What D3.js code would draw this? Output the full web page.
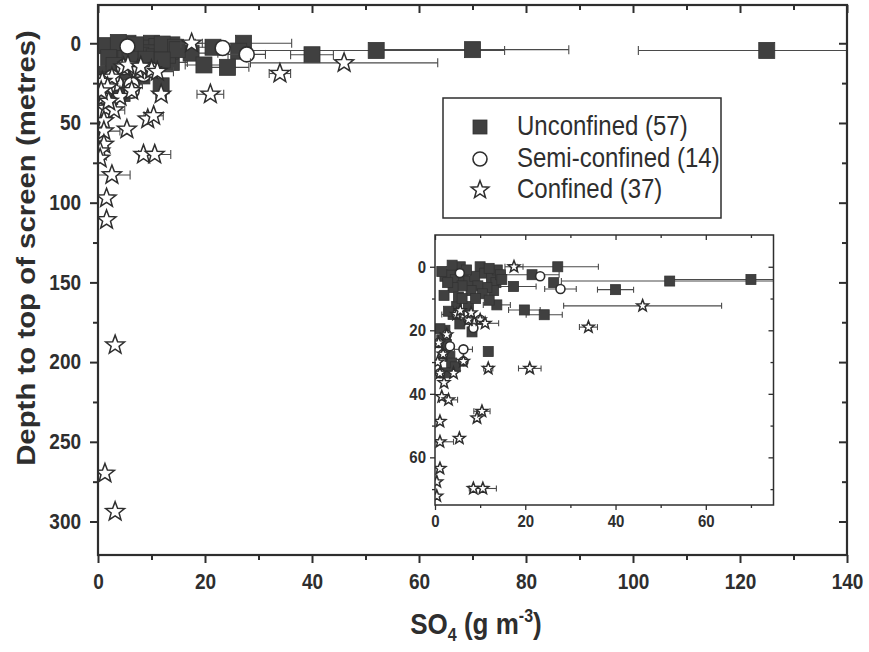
<!DOCTYPE html>
<html>
<head>
<meta charset="utf-8">
<script src="https://cdn.jsdelivr.net/npm/d3@7"></script>
<style>
  body { margin: 0; background: #fff; }
  svg { display: block; }
</style>
</head>
<body>
<svg id="chart" width="869" height="652"></svg>
<script>
// ---- Data: SO4 concentration (g m-3), depth to top of screen (m), SO4 error (±) ----
const unconfinedSO4   = [27.2, 40, 52, 70, 125, 17.4, 13.7, 21.5, 26.3, 19.8, 24.2, 11.8, 4.8, 7.4, 4.0, 2.2, 1.1, 8.2, 3.3, 3.7,
                         2.2, 5.6, 10.0, 2.2, 3.5, 4.5, 6.3, 7.5, 8.8, 11.0, 12.5, 13.5, 13.0, 11.5, 9.5, 8.0, 6.0, 4.0, 2.8, 1.5,
                         10.5, 13.8, 3.8, 7.0, 12.0, 2.0, 5.2, 3.0, 6.0, 9.0, 1.5, 5.5, 2.5, 4.5, 14.5, 14.8, 12.0];
const unconfinedDepth = [0, 7.2, 4.5, 4, 4.5, 6.2, 12, 2.5, 5, 13.6, 15.1, 26.7, 12.5, 12.5, 15, 20, 19.5, 20.5, 28.2, 30.3,
                         33.4, 0, 0, 3, 2.5, 4, 3, 4.5, 3, 2, 3.5, 5, 7.5, 6.5, 6, 7.5, 6, 6.5, 5, 1.5,
                         8.5, 1, -0.5, 1, 0.5, 9, 9.5, 14, 10, 10, 23, 18, 24.5, 31.5, 2.5, 4, 10.5];
const unconfinedErr   = [9, 4, 24, 18, 24, 5, 3, 6, 0, 3.5, 4, 0, 0, 0, 2.5, 0, 0, 0, 0, 0,
                         0, 0, 0, 0, 0, 0, 0, 0, 0, 0, 0, 0, 0, 0, 0, 0, 0, 0, 0, 0,
                         0, 0, 0, 0, 0, 0, 0, 0, 0, 0, 0, 0, 0, 0, 0, 0, 0];

const semiSO4   = [5.5, 23.3, 27.8, 8.5, 3.3, 6.3, 4.8, 2.6, 1.1, 6.3, 10.0, 0.8, 1.8, 7.4];
const semiDepth = [2, 3, 7, 19.3, 25, 26, 15, 21.4, 33.5, 29.8, 16.7, 24, 27.5, 16.7];
const semiErr   = [0, 0, 3.5, 0, 0, 2, 0, 0, 0, 0, 0, 0, 0, 0];

const confinedSO4   = [17.5, 46, 34, 11.8, 21, 4.8, 7.4, 10, 11.1, 2.6, 1.1, 4.1, 6.3, 1.5, 3.0, 1.1, 9.3, 10.4, 1.1,
                       5.4, 1.1, 0.4, 0.4, 8.5, 10.6, 2.6, 1.6, 1.6, 3.2, 1.3, 3.2, 0.8, 5.6, 1.8, 8.0, 2.0, 0.6];
const confinedDepth = [0, 12.3, 19, 32, 32, 15, 16.7, 16.7, 17.8, 21.4, 33.5, 33.5, 29.8, 40.9, 41.9, 48.7, 47.6, 45.5, 55.1,
                       54, 63.5, 67.7, 72.2, 69.8, 69.8, 82.6, 97.2, 110.8, 189.3, 269.8, 293.8, 24, 13.8, 27.5, 14.5, 36.5, 30];
const confinedErr   = [2, 17.5, 2, 1, 2.5, 0, 0, 0, 3, 0, 0, 0, 0, 0, 2, 0, 0, 1.8, 3,
                       0, 0, 0, 0, 0, 3, 3.4, 0, 0, 0, 0, 0, 0, 0, 0, 0, 0, 0];

const legendLabels = ["Unconfined (57)", "Semi-confined (14)", "Confined (37)"];

const mainXMajor = [0, 20, 40, 60, 80, 100, 120, 140];
const mainXMinor = [10, 30, 50, 70, 90, 110, 130];
const mainYMajor = [0, 50, 100, 150, 200, 250, 300];
const mainYMinor = [25, 75, 125, 175, 225, 275];
const insetXMajor = [0, 20, 40, 60];
const insetXMinor = [10, 30, 50, 70];
const insetYMajor = [0, 20, 40, 60];
const insetYMinor = [10, 30, 50, 70];

// ---- Setup ----
const FONT = "'Liberation Sans', Arial, Helvetica, sans-serif";
const INK = "#2e2e2e";
const SQUARE_FILL = "#404040";
const STRETCH = 1.13;   // glyphs in this figure are slightly tall

const svg = d3.select("#chart");

const zip = (xs, ys, es) => xs.map((v, i) => ({ v, d: ys[i], e: es[i] }));
const series = [
  { kind: "square", data: zip(unconfinedSO4, unconfinedDepth, unconfinedErr) },
  { kind: "circle", data: zip(semiSO4, semiDepth, semiErr) },
  { kind: "star",   data: zip(confinedSO4, confinedDepth, confinedErr) }
];

function starPath(R) {
  const pts = [];
  for (let i = 0; i < 10; i++) {
    const a = -Math.PI / 2 + i * Math.PI / 5;
    const r = i % 2 ? R * 0.42 : R;
    pts.push([r * Math.cos(a), r * Math.sin(a)]);
  }
  return "M" + pts.map(p => p[0].toFixed(2) + "," + p[1].toFixed(2)).join("L") + "Z";
}

function drawMarker(g, kind, cx, cy, s) {
  if (kind === "square") {
    g.append("rect").attr("x", cx - s / 2).attr("y", cy - s / 2).attr("width", s).attr("height", s)
      .attr("fill", SQUARE_FILL).attr("stroke", "#333").attr("stroke-width", 0.8);
  } else if (kind === "circle") {
    g.append("circle").attr("cx", cx).attr("cy", cy).attr("r", s / 2 - 0.5)
      .attr("fill", "#fff").attr("stroke", INK).attr("stroke-width", 1.6);
  } else {
    g.append("path").attr("d", starPath(s * 0.62)).attr("transform", `translate(${cx},${cy})`)
      .attr("fill", "#fff").attr("stroke", INK).attr("stroke-width", 1.5).attr("stroke-linejoin", "miter");
  }
}

function plotSeries(g, xs, ys, s, cap) {
  series.forEach(ser => {
    const eg = g.append("g").attr("stroke", "#4a4a4a").attr("stroke-width", 1.1);
    ser.data.filter(p => p.e > 0).forEach(p => {
      const yy = ys(p.d), xa = xs(p.v - p.e), xb = xs(p.v + p.e);
      eg.append("line").attr("x1", xa).attr("x2", xb).attr("y1", yy).attr("y2", yy);
      eg.append("line").attr("x1", xa).attr("x2", xa).attr("y1", yy - cap).attr("y2", yy + cap);
      eg.append("line").attr("x1", xb).attr("x2", xb).attr("y1", yy - cap).attr("y2", yy + cap);
    });
    const mg = g.append("g");
    ser.data.forEach(p => drawMarker(mg, ser.kind, xs(p.v), ys(p.d), s));
  });
}

function styleAxis(sel, fontSize, strokeW) {
  sel.select(".domain").remove();
  sel.selectAll(".tick line").attr("stroke", INK).attr("stroke-width", strokeW);
  sel.selectAll(".tick text")
    .attr("fill", INK).attr("font-family", FONT).attr("font-weight", "bold")
    .attr("font-size", fontSize).attr("transform", `scale(1,${STRETCH})`);
}

function frameAxes(g, xs, ys, o) {
  const [x0, x1] = xs.range(), [y0, y1] = ys.range();
  const add = (axis, tx, ty) => g.append("g").attr("transform", `translate(${tx},${ty})`).call(axis.tickSizeOuter(0));
  // bottom (labelled, ticks outward)
  styleAxis(add(d3.axisBottom(xs).tickValues(o.xMajor).tickSize(o.major).tickPadding(o.padX), 0, y1), o.font, o.sw);
  styleAxis(add(d3.axisBottom(xs).tickValues(o.xMinor).tickSize(o.minor).tickFormat(""), 0, y1), o.font, o.sw);
  // left (labelled, ticks outward)
  styleAxis(add(d3.axisLeft(ys).tickValues(o.yMajor).tickSize(o.major).tickPadding(o.padY), x0, 0), o.font, o.sw);
  styleAxis(add(d3.axisLeft(ys).tickValues(o.yMinor).tickSize(o.minor).tickFormat(""), x0, 0), o.font, o.sw);
  // top mirror (ticks pointing into the plot)
  styleAxis(add(d3.axisBottom(xs).tickValues(o.xMajor).tickSize(o.major).tickFormat(""), 0, y0), o.font, o.sw);
  styleAxis(add(d3.axisBottom(xs).tickValues(o.xMinor).tickSize(o.minor).tickFormat(""), 0, y0), o.font, o.sw);
  // right mirror (ticks pointing into the plot)
  styleAxis(add(d3.axisLeft(ys).tickValues(o.yMajor).tickSize(o.major).tickFormat(""), x1, 0), o.font, o.sw);
  styleAxis(add(d3.axisLeft(ys).tickValues(o.yMinor).tickSize(o.minor).tickFormat(""), x1, 0), o.font, o.sw);
  // frame
  g.append("rect").attr("x", x0).attr("y", y0).attr("width", x1 - x0).attr("height", y1 - y0)
    .attr("fill", "none").attr("stroke", INK).attr("stroke-width", o.frame);
}

function stretchedText(g, x, y, size, weight, anchor, rotate) {
  const t = g.append("text")
    .attr("transform", `translate(${x},${y}) scale(1,${STRETCH})` + (rotate ? ` rotate(${rotate})` : ""))
    .attr("font-family", FONT).attr("font-size", size).attr("font-weight", weight)
    .attr("fill", INK).attr("text-anchor", anchor);
  return t;
}

// ---- Main panel ----
const x = d3.scaleLinear().domain([0, 140]).range([98, 847]);
const y = d3.scaleLinear().domain([-24, 321]).range([5, 555]);

svg.append("clipPath").attr("id", "clip-main")
  .append("rect").attr("x", 98).attr("y", 5).attr("width", 749).attr("height", 550);

const mainG = svg.append("g").attr("clip-path", "url(#clip-main)");
plotSeries(mainG, x, y, 16, 4.5);

frameAxes(svg.append("g"), x, y, {
  xMajor: mainXMajor, xMinor: mainXMinor, yMajor: mainYMajor, yMinor: mainYMinor,
  major: 8, minor: 5, padX: 9, padY: 9, font: 19, sw: 2, frame: 2.2
});

// Axis titles
stretchedText(svg, 26, 248, 26, "bold", "middle", -90)
  .attr("dy", "0.35em").text("Depth to top of screen (metres)");

const xt = stretchedText(svg, 476, 634, 26, "bold", "middle", 0);
xt.append("tspan").text("SO");
xt.append("tspan").attr("font-size", 16).attr("dy", 6).text("4");
xt.append("tspan").attr("dy", -6).text(" (g m");
xt.append("tspan").attr("font-size", 16).attr("dy", -11).text("-3");
xt.append("tspan").attr("dy", 11).text(")");

// ---- Legend ----
const lg = svg.append("g");
lg.append("rect").attr("x", 443).attr("y", 98).attr("width", 278).attr("height", 120)
  .attr("fill", "#fff").attr("stroke", INK).attr("stroke-width", 1.5);
const legendKinds = ["square", "circle", "star"];
const legendY = [127, 159, 190];
legendKinds.forEach((k, i) => {
  if (k === "square") drawMarker(lg, k, 480, legendY[i], 14);
  else drawMarker(lg, k, 480, legendY[i], 15);
  stretchedText(lg, 517, legendY[i] + 8, 24, "normal", "start", 0).text(legendLabels[i]);
});

// ---- Inset: enlarged view of the shallow, low-SO4 region ----
const xi = d3.scaleLinear().domain([0, 75]).range([435, 773.5]);
const yi = d3.scaleLinear().domain([-10, 75]).range([235, 505]);

svg.append("rect").attr("x", 435).attr("y", 235).attr("width", 338.5).attr("height", 270).attr("fill", "#fff");
svg.append("clipPath").attr("id", "clip-inset")
  .append("rect").attr("x", 435).attr("y", 235).attr("width", 338.5).attr("height", 270);
const insetG = svg.append("g").attr("clip-path", "url(#clip-inset)");
plotSeries(insetG, xi, yi, 10, 3);

frameAxes(svg.append("g"), xi, yi, {
  xMajor: insetXMajor, xMinor: insetXMinor, yMajor: insetYMajor, yMinor: insetYMinor,
  major: 5, minor: 3, padX: 4, padY: 4, font: 15, sw: 1.3, frame: 1.5
});
</script>
</body>
</html>
